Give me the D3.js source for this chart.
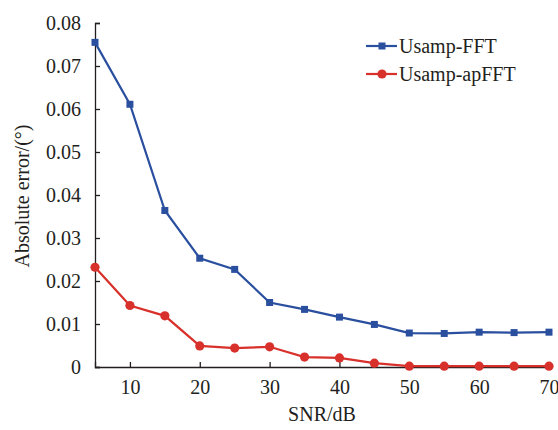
<!DOCTYPE html>
<html><head><meta charset="utf-8">
<script src="https://cdn.jsdelivr.net/npm/d3@7"></script>
<style>body{margin:0;background:#fff}text{font-family:"Liberation Serif","Times New Roman",serif;fill:#231f20}</style>
</head><body><svg id="c" width="558" height="430"></svg>
<script>
const snr = [5,10,15,20,25,30,35,40,45,50,55,60,65,70];
const fftErr = [0.0755,0.0611,0.0364,0.0253,0.0227,0.0150,0.0134,0.0116,0.0099,0.0079,0.0078,0.0081,0.0080,0.0081];
const apfftErr = [0.0232,0.0143,0.0119,0.0049,0.0044,0.0047,0.0023,0.0021,0.0009,0.0002,0.0002,0.0002,0.0002,0.0002];
const xTicks = [10,20,30,40,50,60,70];
const yTicks = [0,0.01,0.02,0.03,0.04,0.05,0.06,0.07,0.08];
const seriesNames = ["Usamp-FFT","Usamp-apFFT"];
const colors = ["#2a4f9f","#d8302b"];

const svg = d3.select("#c");
const x = d3.scaleLinear().domain([5,70]).range([95,549]);
const y = d3.scaleLinear().domain([0,0.08]).range([367,23]);

const fmtY = d => d === 0 ? "0" : d3.format(".2f")(d);

const gx = svg.append("g").attr("transform","translate(0,367)")
  .call(d3.axisBottom(x).tickValues(xTicks).tickSize(-5).tickPadding(13).tickFormat(d3.format("d")));
const gy = svg.append("g").attr("transform","translate(95,0)")
  .call(d3.axisLeft(y).tickValues(yTicks).tickSize(-5).tickPadding(14).tickFormat(fmtY));
[gx,gy].forEach(g=>{
  g.selectAll("path.domain").attr("stroke","#231f20").attr("stroke-width",1.3);
  g.selectAll(".tick line").attr("stroke","#231f20").attr("stroke-width",1.3);
  g.selectAll(".tick text").style("font-size","20px").attr("fill","#231f20").style("font-family",'"Liberation Serif",serif');
});
// extend x axis to the left edge at 95 (domain already starts there)

svg.append("text").attr("x",322).attr("y",421).attr("text-anchor","middle").style("font-size","20px").text("SNR/dB");
svg.append("text").attr("transform","translate(29,196) rotate(-90)").attr("text-anchor","middle").style("font-size","20px").text("Absolute error/(°)");

const line = d3.line().x((d,i)=>x(snr[i])).y(d=>y(d));
[fftErr, apfftErr].forEach((arr,k)=>{
  svg.append("path").datum(arr).attr("d",line).attr("fill","none").attr("stroke",colors[k]).attr("stroke-width",2.2);
});
svg.selectAll("rect.m").data(fftErr).enter().append("rect")
  .attr("x",(d,i)=>x(snr[i])-3.5).attr("y",d=>y(d)-3.5).attr("width",7).attr("height",7).attr("fill",colors[0]);
svg.selectAll("circle.m").data(apfftErr).enter().append("circle")
  .attr("cx",(d,i)=>x(snr[i])).attr("cy",d=>y(d)).attr("r",4.6).attr("fill",colors[1]);

// legend
const leg = svg.append("g");
seriesNames.forEach((n,k)=>{
  const ly = 46 + k*28;
  leg.append("line").attr("x1",366).attr("x2",397).attr("y1",ly).attr("y2",ly).attr("stroke",colors[k]).attr("stroke-width",2.2);
  if(k===0) leg.append("rect").attr("x",378.5).attr("y",ly-3.5).attr("width",7).attr("height",7).attr("fill",colors[k]);
  else leg.append("circle").attr("cx",382).attr("cy",ly).attr("r",4.6).attr("fill",colors[k]);
  leg.append("text").attr("x",399).attr("y",ly+7).style("font-size","20px").text(n);
});
</script></body></html>
